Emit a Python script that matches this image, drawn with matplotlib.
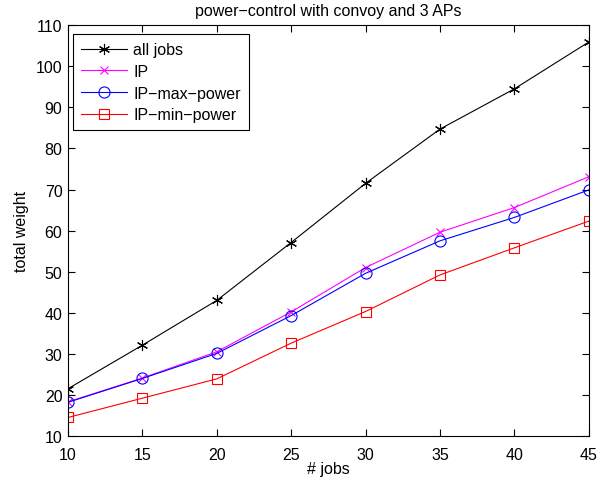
import matplotlib
matplotlib.use('Agg')
import matplotlib.pyplot as plt

plt.rcParams['font.family'] = ['Liberation Sans', 'DejaVu Sans']

jobs = [10, 15, 20, 25, 30, 35, 40, 45]
all_jobs = [21.5, 32.1, 43.0, 57.1, 71.5, 84.7, 94.5, 105.9]
ip = [18.3, 24.1, 30.5, 40.2, 51.0, 59.6, 65.6, 73.1]
ip_max_power = [18.2, 24.0, 30.1, 39.3, 49.6, 57.5, 63.2, 69.9]
ip_min_power = [14.5, 19.2, 23.9, 32.6, 40.3, 49.2, 55.8, 62.3]

M = '\u2212'

fig = plt.figure(figsize=(6.12, 4.85), dpi=100)
ax = fig.add_axes([0.111, 0.099, 0.851, 0.847])

ax.plot(jobs, all_jobs, color='k', lw=0.8, marker=(6, 2, 0), ms=8, mew=0.8, label='all jobs')
ax.plot(jobs, ip, color='#ff00ff', lw=0.8, marker='x', ms=6, mew=0.8, label='IP')
ax.plot(jobs, ip_max_power, color='#0000ff', lw=0.8, marker='o', ms=8, mew=0.8,
        mfc='none', label=f'IP{M}max{M}power')
ax.plot(jobs, ip_min_power, color='#ff0000', lw=0.8, marker='s', ms=7, mew=0.8,
        mfc='none', label=f'IP{M}min{M}power')

ax.set_xlim(10, 45)
ax.set_ylim(10, 110)
ax.set_xticks(range(10, 46, 5))
ax.set_yticks(range(10, 111, 10))
ax.tick_params(direction='in', top=True, right=True, labelsize=11.5, length=5, width=0.8)
ax.tick_params(axis='x', pad=8)
ax.tick_params(axis='y', pad=4)
for s in ax.spines.values():
    s.set_linewidth(0.8)

ax.set_xlabel('# jobs', fontsize=11.5, labelpad=-1)
ax.set_ylabel('total weight', fontsize=11.5, labelpad=5)
ax.set_title(f'power{M}control with convoy and 3 APs', fontsize=11.5, pad=7)

leg = ax.legend(loc='upper left', bbox_to_anchor=(0.009, 0.978), borderaxespad=0,
                fontsize=11.5, fancybox=False, framealpha=1, edgecolor='k',
                handlelength=2.9, handletextpad=0.4, labelspacing=0.42, borderpad=0.5)
leg.get_frame().set_linewidth(0.8)

fig.savefig('out.png', dpi=100)
